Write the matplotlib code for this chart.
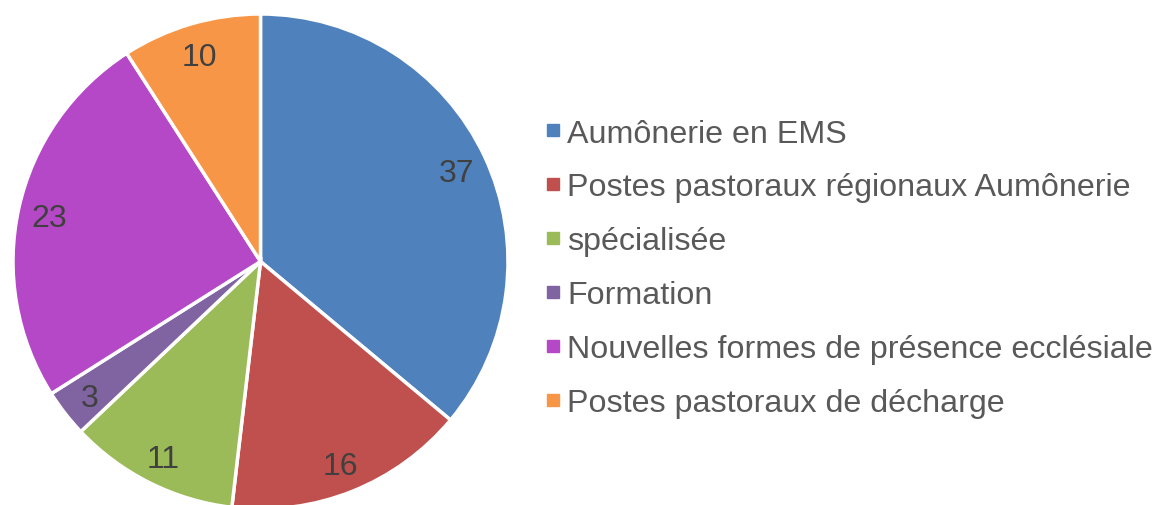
import matplotlib.pyplot as plt
from matplotlib.lines import Line2D

plt.rcParams['font.family'] = ['Liberation Sans', 'DejaVu Sans']

categories = ['Aumônerie en EMS', 'Postes pastoraux régionaux Aumônerie',
              'spécialisée', 'Formation',
              'Nouvelles formes de présence ecclésiale',
              'Postes pastoraux de décharge']
# printed data labels
values = [37, 16, 11, 3, 23, 10]
# slice sizes as drawn in the original (they don't quite match the labels)
shares = [36.1, 15.8, 11.1, 3.1, 24.9, 9.1]
colors = ['#4F81BD', '#C0504D', '#9BBB59', '#8064A2', '#B548C6', '#F79646']

fig = plt.figure(figsize=(11.57, 5.06), dpi=100)
ax = fig.add_axes([13 / 1157, -4 / 506, 495 / 1157, 495 / 506])

wedges, texts = ax.pie(shares, colors=colors, startangle=90, counterclock=False,
                       labels=[str(v) for v in values], labeldistance=0.875,
                       wedgeprops=dict(edgecolor='white', linewidth=2.5),
                       textprops=dict(fontsize=23, color='#404040'))
for t in texts:
    t.set_ha('center')
    t.set_va('center_baseline')
ax.set_xlim(-1.0, 1.0)
ax.set_ylim(-1.0, 1.0)
ax.set_aspect('equal')

handles = [Line2D([], [], linestyle='none', marker='s', markersize=8,
                  markerfacecolor=c, markeredgecolor=c) for c in colors]
fig.legend(handles, categories, loc='center left', bbox_to_anchor=(548 / 1157, 0.468),
           frameon=False, fontsize=23.2, labelcolor='#595959',
           handlelength=0.3, handletextpad=0.3,
           labelspacing=0.74, borderpad=0, borderaxespad=0)

fig.savefig('out.png', dpi=100)
